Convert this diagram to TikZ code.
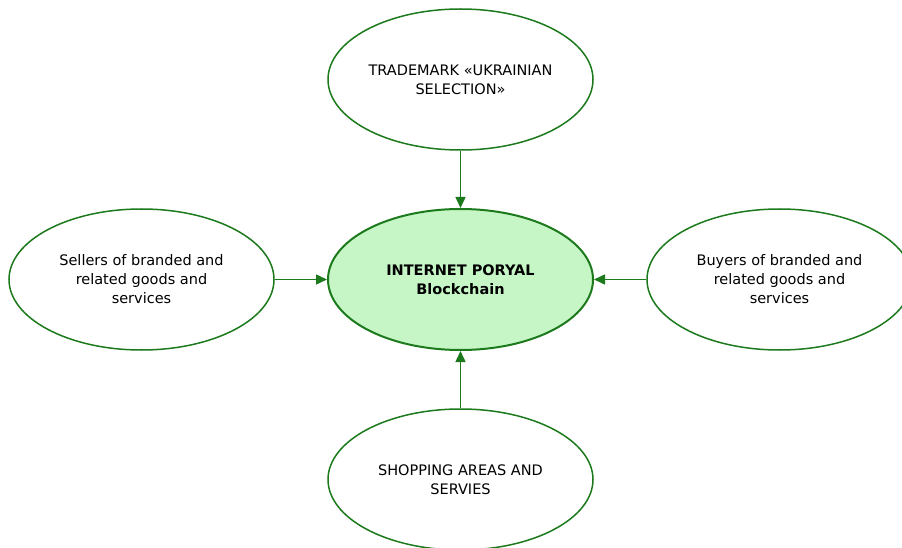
\documentclass[tikz,border=0pt]{standalone}
\usepackage{fontspec}
\setmainfont{DejaVu Sans}
\usetikzlibrary{shapes.geometric,arrows.meta}
\definecolor{lgreen}{RGB}{28,122,28}
\definecolor{pgreen}{RGB}{198,246,198}

\begin{document}
\begin{tikzpicture}[x=1pt,y=-1pt,
	oval/.style={ellipse,draw=lgreen,line width=1.5pt,fill=white,
		minimum width=265pt,minimum height=141pt,inner sep=0pt,
		align=center,font=\fontsize{14.5}{19}\selectfont},
	hub/.style={oval,fill=pgreen,line width=2pt,font=\fontsize{14.5}{19}\selectfont\bfseries},
	link/.style={draw=lgreen,line width=1.5pt,-{Triangle[length=11pt,width=10pt]}}]
		\useasboundingbox (0,0) rectangle (902,548);
		
		\node[hub] (portal) at (460.5,279.5) {INTERNET PORYAL\\Blockchain};
		\node[oval] (mark) at (460.5,79.5) {TRADEMARK «UKRAINIAN\\SELECTION»};
		\node[oval] (sellers) at (141.5,279.5) {Sellers of branded and\\related goods and\\services};
		\node[oval] (buyers) at (779.5,279.5) {Buyers of branded and\\related goods and\\services};
		\node[oval] (shops) at (460.5,479.5) {SHOPPING AREAS AND\\SERVIES};
		
		\draw[link] (mark) -- (portal);
		\draw[link] (sellers) -- (portal);
		\draw[link] (buyers) -- (portal);
		\draw[link] (shops) -- (portal);
\end{tikzpicture}
\end{document}
